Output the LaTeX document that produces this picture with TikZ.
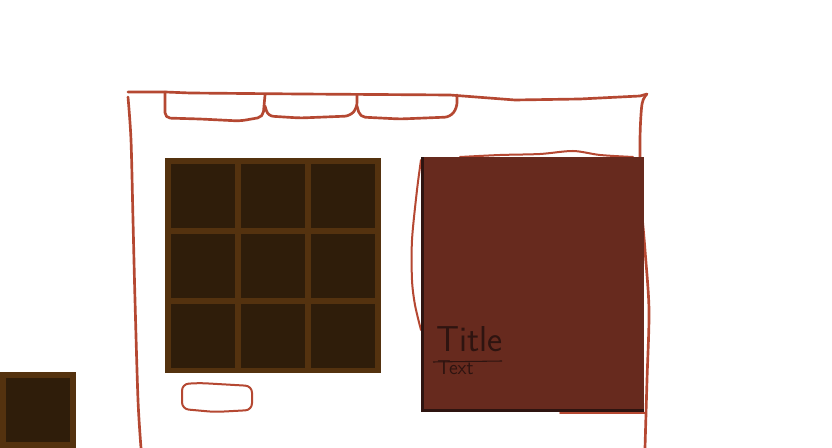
\documentclass[tikz,border=0pt]{standalone}
\usetikzlibrary{positioning}

\definecolor{sketchred}{RGB}{181,72,50}
\definecolor{gridframe}{RGB}{84,50,15}
\definecolor{gridcell}{RGB}{47,29,10}
\definecolor{cardfill}{RGB}{103,42,30}
\definecolor{cardshade}{RGB}{46,20,16}

\begin{document}
\begin{tikzpicture}[
  x=0.75pt, y=-0.75pt,
  sketch/.style={
    draw=sketchred,
    line width=2pt,
    line cap=round,
    line join=round
  },
  thinsketch/.style={sketch, line width=1.5pt},
  cell/.style={fill=gridcell},
  cardtext/.style={
    text=cardshade,
    inner sep=0pt,
    anchor=base west
  }
]
\useasboundingbox[fill=white] (0,0) rectangle (832,448);

% Cadre principal
\draw[sketch] (128,92) -- (165,92) -- (190,93) -- (300,94) -- (450,95)
  -- (515,100) -- (580,99) -- (640,96) -- (647,94);
\draw[sketch] plot[smooth] coordinates
  {(128,97) (131,140) (133,220) (135,300) (138,400) (141,448)};
\draw[sketch] plot[smooth] coordinates
  {(647,94) (642,104) (640,140) (641,200) (645,250) (649,310) (647,380) (645,448)};

% Onglets
\draw[sketch, rounded corners=4pt] (165,92) -- (165,118) -- (200,119)
  -- (240,121) -- (263,117) -- (265,95);
\draw[sketch, rounded corners=4pt] (265,106) -- (268,116) -- (300,118)
  -- (350,116) -- (357,108) -- (357,95);
\draw[sketch, rounded corners=4pt] (357,106) -- (360,117) -- (400,119)
  -- (450,117) -- (457,108) -- (457,95);

% Grille 3x3
\fill[gridframe] (165,158) rectangle (381,373);
\foreach \i in {0,1,2}
  \foreach \j in {0,1,2}
    \fill[cell] ({171+70*\i},{164+70*\j}) rectangle ++(64,64);

% Case isolee en bas a gauche
\fill[gridframe] (0,372) rectangle (76,448);
\fill[cell] (6,378) rectangle (70,442);

% Bouton
\draw[thinsketch, rounded corners=5pt] (182,384) -- (200,383) -- (252,386)
  -- (252,410) -- (215,412) -- (182,409) -- cycle;

% Contour de la carte
\draw[thinsketch] plot[smooth] coordinates
  {(421,160) (417,190) (412,240) (412,280) (415,305) (421,330)};
\draw[thinsketch] plot[smooth] coordinates
  {(460,157) (500,155) (540,154) (573,151) (600,155) (633,157)};
\draw[thinsketch] (560,413) -- (645,413);

% Carte
\fill[cardshade] (421,157) rectangle (644,412);
\fill[cardfill] (424,157) rectangle (644,409);

% Textes de la carte
\node[cardtext, font=\sffamily\fontsize{27}{27}\selectfont] (title) at (436,352) {Title};
\draw[cardshade, line width=0.8pt] (433,362) -- (502,361);
\node[cardtext, font=\sffamily\fontsize{15}{15}\selectfont] (body) at (437,375) {Text};

\end{tikzpicture}
\end{document}
